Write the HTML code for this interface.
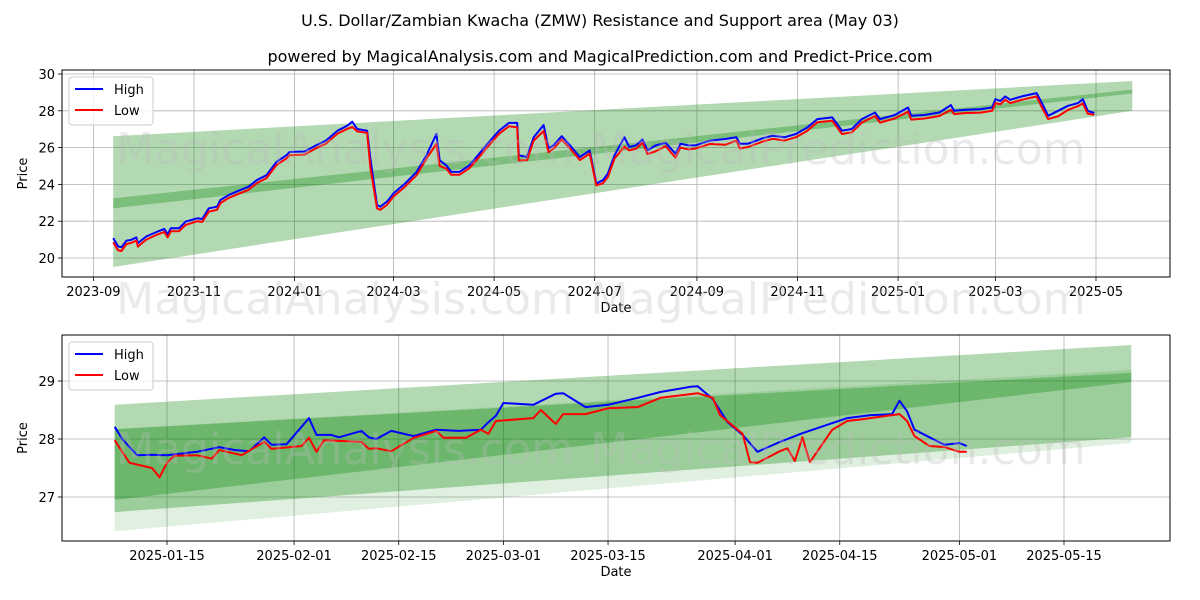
<!DOCTYPE html>
<html><head><meta charset="utf-8">
<style>
body{margin:0;background:#fff;}
svg{display:block;font-family:"DejaVu Sans","Liberation Sans",sans-serif;}
</style></head>
<body>
<svg id="chart" width="1200" height="600" viewBox="0 0 1200 600">
<text x="600" y="26" text-anchor="middle" font-size="16">U.S. Dollar/Zambian Kwacha (ZMW) Resistance and Support area (May 03)</text>
<text x="600" y="62" text-anchor="middle" font-size="16">powered by MagicalAnalysis.com and MagicalPrediction.com and Predict-Price.com</text>
<g id="top"></g>
<g id="bot"></g>
<g fill="#bbb" opacity="0.3" font-size="44">
<text x="345" y="164" text-anchor="middle">MagicalAnalysis.com</text>
<text x="838" y="164" text-anchor="middle">MagicalPrediction.com</text>
<text x="345" y="314" text-anchor="middle">MagicalAnalysis.com</text>
<text x="838" y="314" text-anchor="middle">MagicalPrediction.com</text>
<text x="345" y="464" text-anchor="middle">MagicalAnalysis.com</text>
<text x="838" y="464" text-anchor="middle">MagicalPrediction.com</text>
</g>
</svg>
<script>
// ---- Top chart data (days since 2023-09-01) ----
const topDays = [12,15,17,20,23,26,27,32,39,43,45,47,52,56,63,66,70,75,77,82,89,94,99,105,111,117,119,128,135,141,148,154,157,160,166,168,172,174,178,182,189,196,202,208,210,214,217,222,228,234,239,246,252,257,258,263,267,273,276,279,284,289,295,301,305,309,312,316,322,325,329,333,336,341,347,353,356,361,365,374,383,390,392,397,406,412,419,426,433,439,448,454,460,466,474,477,486,494,496,504,513,520,522,529,538,545,547,550,553,556,563,572,575,579,585,591,597,600,603,607];
const topHigh = [21.08,20.63,20.58,20.94,20.99,21.12,20.81,21.17,21.44,21.58,21.29,21.62,21.62,21.98,22.16,22.12,22.70,22.79,23.15,23.42,23.69,23.87,24.23,24.50,25.22,25.58,25.76,25.79,26.12,26.38,26.92,27.19,27.41,27.01,26.92,25.40,22.88,22.79,23.06,23.51,24.05,24.68,25.58,26.74,25.31,25.04,24.68,24.68,25.04,25.67,26.21,26.92,27.34,27.34,25.58,25.49,26.56,27.23,25.97,26.12,26.62,26.12,25.49,25.85,24.05,24.23,24.59,25.58,26.56,26.03,26.12,26.44,25.85,26.12,26.26,25.67,26.21,26.12,26.12,26.38,26.47,26.56,26.21,26.21,26.51,26.65,26.56,26.74,27.10,27.55,27.64,26.92,27.01,27.55,27.91,27.55,27.77,28.18,27.73,27.77,27.91,28.31,28.00,28.06,28.09,28.18,28.63,28.54,28.78,28.60,28.78,28.96,28.45,27.73,28.00,28.27,28.42,28.63,28.00,27.88];
const topLow = [20.85,20.42,20.38,20.76,20.82,20.95,20.62,21.00,21.28,21.42,21.12,21.45,21.46,21.80,22.00,21.96,22.52,22.62,22.98,23.26,23.52,23.70,24.06,24.34,25.05,25.40,25.58,25.62,25.96,26.22,26.76,27.02,27.12,26.88,26.80,24.90,22.70,22.62,22.88,23.34,23.88,24.50,25.40,26.20,25.00,24.86,24.52,24.52,24.88,25.50,26.04,26.75,27.16,27.10,25.30,25.32,26.38,26.90,25.75,25.94,26.44,25.95,25.32,25.68,23.95,24.06,24.40,25.40,26.05,25.85,25.94,26.26,25.65,25.80,26.08,25.45,26.00,25.90,25.95,26.20,26.15,26.38,25.95,26.03,26.33,26.48,26.38,26.56,26.92,27.38,27.46,26.74,26.83,27.36,27.72,27.36,27.58,27.95,27.52,27.58,27.72,28.05,27.82,27.88,27.90,28.00,28.42,28.36,28.60,28.42,28.60,28.78,28.22,27.55,27.70,28.05,28.25,28.40,27.85,27.78];
const topBandDays = [12,630];
const topResTop = [26.62,29.62];
const topResBot = [22.70,28.95];
const topSupTop = [23.24,29.15];
const topSupBot = [19.51,28.00];
const topYTicks = [20,22,24,26,28,30];
const topXTickDays = [0,61,122,182,243,304,366,427,488,547,608];
const topXTickLabels = ["2023-09","2023-11","2024-01","2024-03","2024-05","2024-07","2024-09","2024-11","2025-01","2025-03","2025-05"];

// ---- Bottom chart data (days since 2025-01-01) ----
const botHighDays = [7,8,10,12,14,16,18,21,23,25,27,28,30,33,34,36,37,40,41,42,44,47,50,53,56,57,58,59,63,66,67,70,73,77,80,84,85,87,89,91,93,96,99,105,108,111,112,113,114,118,120,121];
const botHigh = [28.21,28.00,27.72,27.73,27.72,27.75,27.78,27.86,27.81,27.79,28.03,27.90,27.91,28.36,28.07,28.07,28.03,28.14,28.03,28.00,28.14,28.05,28.16,28.14,28.16,28.29,28.40,28.62,28.59,28.78,28.79,28.55,28.59,28.71,28.81,28.90,28.91,28.69,28.29,28.07,27.78,27.95,28.10,28.36,28.41,28.43,28.66,28.48,28.16,27.90,27.93,27.88];
const botLowDays = [7,8,9,12,13,14,15,18,20,21,24,27,28,32,33,34,35,40,41,42,44,47,50,51,54,56,57,58,63,64,66,67,70,73,77,80,85,87,88,91,92,93,96,97,98,99,100,103,105,107,112,113,114,116,118,120,121];
const botLow = [27.98,27.78,27.59,27.50,27.34,27.59,27.71,27.72,27.66,27.81,27.72,27.95,27.83,27.88,28.02,27.78,27.98,27.95,27.83,27.84,27.79,28.02,28.14,28.02,28.02,28.16,28.09,28.31,28.36,28.50,28.26,28.43,28.43,28.53,28.55,28.71,28.79,28.71,28.41,28.09,27.60,27.59,27.79,27.84,27.62,28.03,27.60,28.16,28.31,28.34,28.43,28.31,28.05,27.88,27.86,27.78,27.78];
const botBandDays = [7,143];
const botResTop = [28.59,29.62];
const botResBot = [26.95,28.98];
const botSupTop = [28.17,29.14];
const botSupBot = [26.74,28.03];
const botOuterTop = [28.17,29.19];
const botOuterBot = [26.41,27.93];
const botYTicks = [27,28,29];
const botXTickDays = [14,31,45,59,73,90,104,120,134];
const botXTickLabels = ["2025-01-15","2025-02-01","2025-02-15","2025-03-01","2025-03-15","2025-04-01","2025-04-15","2025-05-01","2025-05-15"];

const NS = "http://www.w3.org/2000/svg";
function mk(parent, tag, attrs){const e=document.createElementNS(NS,tag);for(const k in attrs)e.setAttribute(k,attrs[k]);parent.appendChild(e);return e;}

function drawPanel(g, cfg){
  const {L,R,T,B,xs,ys} = cfg;
  cfg.xTickDays.forEach((d,i)=>{
    const x=xs(d);
    const gl=mk(g,'line',{x1:x,x2:x,y1:T,y2:B,stroke:'#b0b0b0','stroke-width':0.8});
    
    
    const tk=mk(g,'line',{x1:x,x2:x,y1:B,y2:B+4,stroke:'#000','stroke-width':0.8});
    
    
    const t=mk(g,'text',{x:x,y:B+19,'text-anchor':'middle','font-size':13});
    t.textContent=cfg.xTickLabels[i];
    
    
  });
  cfg.yTicks.forEach(v=>{
    const y=ys(v);
    const gl=mk(g,'line',{x1:L,x2:R,y1:y,y2:y,stroke:'#b0b0b0','stroke-width':0.8});
    
    
    const tk=mk(g,'line',{x1:L-4,x2:L,y1:y,y2:y,stroke:'#000','stroke-width':0.8});
    
    
    const t=mk(g,'text',{x:L-7,y:y+5,'text-anchor':'end','font-size':13});
    t.textContent=String(v);
    
    
  });
  cfg.bands.forEach(b=>{
    const d=b.days;
    const pts=[[xs(d[0]),ys(b.top[0])],[xs(d[1]),ys(b.top[1])],[xs(d[1]),ys(b.bot[1])],[xs(d[0]),ys(b.bot[0])]];
    const p=mk(g,'polygon',{points:pts.map(p=>p.join(',')).join(' '),fill:'green','fill-opacity':b.alpha});
    
    
  });
  cfg.series.forEach(s=>{
    const pts=s.days.map((d,i)=>xs(d).toFixed(1)+','+ys(s.vals[i]).toFixed(1)).join(' ');
    const l=mk(g,'polyline',{points:pts,fill:'none',stroke:s.color,'stroke-width':2,'stroke-linejoin':'round'});
    
    
  });
  const fr=mk(g,'rect',{x:L,y:T,width:R-L,height:B-T,fill:'none',stroke:'#000','stroke-width':1});
  
  
  const xl=mk(g,'text',{x:(L+R)/2,y:B+35,'text-anchor':'middle','font-size':13});
  xl.textContent='Date';
  
  
  const yl=mk(g,'text',{x:0,y:0,'text-anchor':'middle','font-size':13,transform:`translate(27,${(T+B)/2}) rotate(-90)`});
  yl.textContent='Price';
  
  
  const lg=mk(g,'g',{});
  
  
  mk(lg,'rect',{x:L+7,y:T+7,width:84,height:48,rx:3,fill:'#fff','fill-opacity':0.8,stroke:'#ccc'});
  [['High','blue',T+19],['Low','red',T+40]].forEach(([n,c,y])=>{
    const e=mk(lg,'g',{});
    
    
    mk(e,'line',{x1:L+13,x2:L+41,y1:y,y2:y,stroke:c,'stroke-width':2});
    const t=mk(e,'text',{x:L+52,y:y+5,'font-size':13});
    t.textContent=n;
  });
}

drawPanel(document.getElementById('top'),{
  L:62,R:1170,T:70,B:277,
  xs:d=>93.4+d*1.649, ys:v=>258-(v-20)*18.4,
  xTickDays:topXTickDays, xTickLabels:topXTickLabels, yTicks:topYTicks,
  bands:[
    {days:topBandDays,top:topResTop,bot:topResBot,alpha:0.3,name:'resistance-band'},
    {days:topBandDays,top:topSupTop,bot:topSupBot,alpha:0.3,name:'support-band'}
  ],
  series:[
    {days:topDays,vals:topHigh,color:'blue',name:'high-line'},
    {days:topDays,vals:topLow,color:'red',name:'low-line'}
  ]
});
drawPanel(document.getElementById('bot'),{
  L:62,R:1170,T:335,B:541,
  xs:d=>62.35+d*7.475, ys:v=>439-(v-28)*58,
  xTickDays:botXTickDays, xTickLabels:botXTickLabels, yTicks:botYTicks,
  bands:[
    {days:botBandDays,top:botOuterTop,bot:botOuterBot,alpha:0.12,name:'outer-support-band'},
    {days:botBandDays,top:botResTop,bot:botResBot,alpha:0.3,name:'resistance-band'},
    {days:botBandDays,top:botSupTop,bot:botSupBot,alpha:0.3,name:'support-band'}
  ],
  series:[
    {days:botHighDays,vals:botHigh,color:'blue',name:'high-line'},
    {days:botLowDays,vals:botLow,color:'red',name:'low-line'}
  ]
});
</script>
</body></html>
